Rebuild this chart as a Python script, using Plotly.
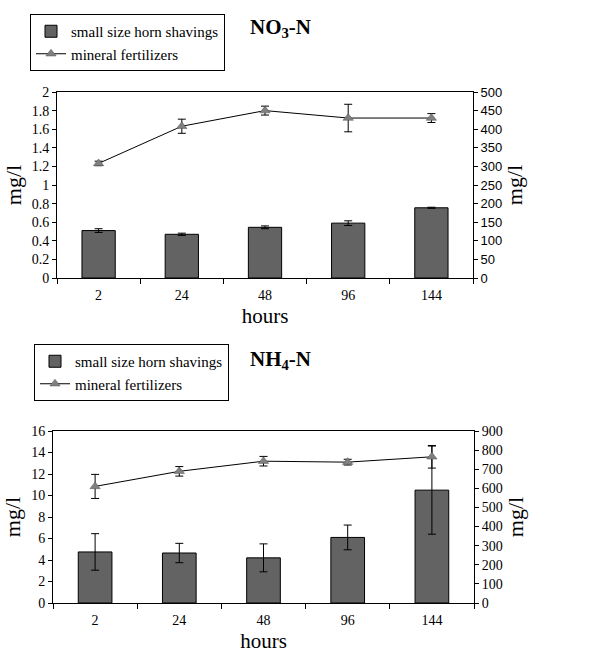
import plotly.graph_objects as go

hours = ["2", "24", "48", "96", "144"]

# NO3-N
no3_horn = [0.51, 0.47, 0.545, 0.59, 0.755]
no3_horn_err = [0.02, 0.012, 0.015, 0.025, 0.006]
no3_mineral = [308, 408, 450, 430, 430]
no3_mineral_err = [6, 19, 12, 37, 12]

# NH4-N
nh4_horn = [4.75, 4.65, 4.2, 6.1, 10.5]
nh4_horn_err = [1.7, 0.9, 1.3, 1.15, 4.1]
nh4_mineral = [610, 689, 742, 737, 765]
nh4_mineral_err = [63, 25, 25, 15, 59]

SERIF = "Liberation Serif"
SANS = "Liberation Sans"
BAR_C = "#636363"
MK_C = "#808080"

fig = go.Figure()

def add_pair(horn, horn_err, mineral, mineral_err, xa, ya_l, ya_r, legend):
    fig.add_trace(go.Bar(
        x=hours, y=horn, name="small size horn shavings",
        marker=dict(color=BAR_C, line=dict(color="black", width=1)),
        width=0.4,
        error_y=dict(type="data", array=horn_err, color="black", thickness=1, width=4),
        xaxis=xa, yaxis=ya_l, legend=legend,
    ))
    fig.add_trace(go.Scatter(
        x=hours, y=mineral, name="mineral fertilizers", mode="lines+markers",
        line=dict(color="black", width=1),
        marker=dict(symbol="triangle-up", size=9, color=MK_C, line=dict(color="#555555", width=0.5)),
        error_y=dict(type="data", array=mineral_err, color="black", thickness=1, width=4),
        xaxis=xa, yaxis=ya_r, legend=legend,
    ))

add_pair(no3_horn, no3_horn_err, no3_mineral, no3_mineral_err, "x", "y", "y2", "legend")
add_pair(nh4_horn, nh4_horn_err, nh4_mineral, nh4_mineral_err, "x2", "y3", "y4", "legend2")

H = 657
W = 610
def py(p):
    return 1 - p / H
def px(p):
    return p / W

xcommon = dict(
    type="category", showline=True, linecolor="black", linewidth=1, mirror=True,
    ticks="outside", ticklen=5, tickcolor="black", tickson="boundaries",
    showgrid=False, tickfont=dict(family=SERIF, size=14, color="black"),
    ticklabelstandoff=4,
    title=dict(text="hours", font=dict(family=SERIF, size=21, color="black"), standoff=6),
    fixedrange=True, automargin=False,
)
ycommon = dict(
    showline=True, linecolor="black", linewidth=1, ticks="outside", ticklen=4,
    tickcolor="black", showgrid=False, zeroline=False, automargin=False,
    tickfont=dict(family=SERIF, size=14, color="black"),
)
ytitle = dict(text="mg/l", font=dict(family=SERIF, size=22, color="black"), standoff=4)

fig.update_layout(
    width=W, height=H, margin=dict(l=0, r=0, t=0, b=0),
    paper_bgcolor="white", plot_bgcolor="white",
    barmode="group",
    xaxis=dict(domain=[px(57), px(473)], anchor="y", **xcommon),
    xaxis2=dict(domain=[px(53), px(474)], anchor="y3", **xcommon),
    yaxis=dict(domain=[py(278), py(92)], anchor="x", range=[0, 2], dtick=0.2,
               title=ytitle, **ycommon),
    yaxis2=dict(domain=[py(278), py(92)], anchor="x", overlaying="y", side="right",
                range=[0, 500], dtick=50, title=ytitle,
                **{**ycommon, "tickfont": dict(family=SANS, size=13, color="black")}),
    yaxis3=dict(domain=[py(603), py(431)], anchor="x2", range=[0, 16], dtick=2,
                title=ytitle, **ycommon),
    yaxis4=dict(domain=[py(603), py(431)], anchor="x2", overlaying="y3", side="right",
                range=[0, 900], dtick=100, title=ytitle, **ycommon),
    legend=dict(x=px(30), y=py(14), xanchor="left", yanchor="top",
                bordercolor="black", borderwidth=1, bgcolor="white",
                font=dict(family=SERIF, size=15, color="black"),
                traceorder="normal", tracegroupgap=4),
    legend2=dict(x=px(34), y=py(344), xanchor="left", yanchor="top",
                 bordercolor="black", borderwidth=1, bgcolor="white",
                 font=dict(family=SERIF, size=15, color="black"),
                 traceorder="normal", tracegroupgap=4),
    annotations=[
        dict(text="<b>NO<sub>3</sub>-N</b>", x=px(248), y=py(28), xref="paper", yref="paper",
             xanchor="left", yanchor="middle", showarrow=False,
             font=dict(family=SERIF, size=21, color="black")),
        dict(text="<b>NH<sub>4</sub>-N</b>", x=px(248), y=py(360), xref="paper", yref="paper",
             xanchor="left", yanchor="middle", showarrow=False,
             font=dict(family=SERIF, size=21, color="black")),
    ],
)

fig.write_html("out.html", config={"displayModeBar": False},
               post_script="document.body.style.margin='0';")
